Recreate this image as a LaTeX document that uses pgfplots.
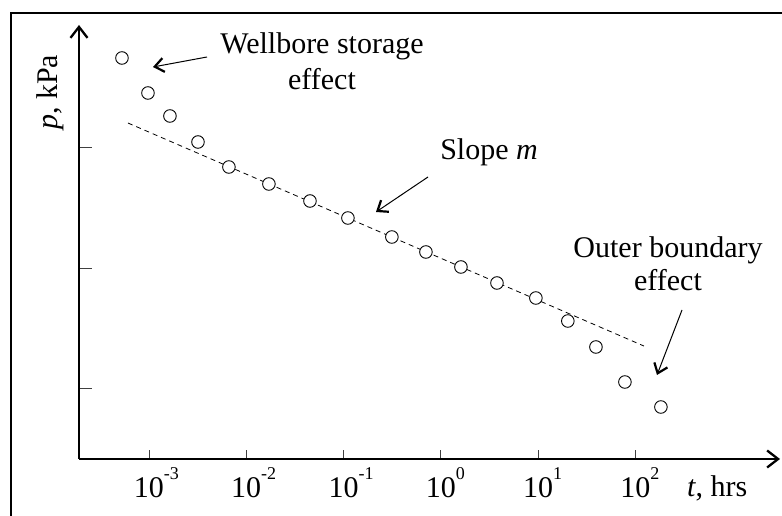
\documentclass[border=0pt]{standalone}
\usepackage{fontspec}
\setmainfont{Liberation Serif}
\usepackage{pgfplots}
\pgfplotsset{compat=1.18}
\usetikzlibrary{arrows.meta}

% tick label: "10" centred on the tick, exponent hanging to the right
\newcommand{\tl}[1]{10\rlap{\raisebox{18pt}{\fontsize{18}{18}\selectfont #1}}}

\begin{document}
\begin{tikzpicture}[font=\fontsize{30}{34}\selectfont]
\useasboundingbox (0pt,0pt) rectangle (782pt,516pt);

\begin{axis}[
  at={(79pt,57pt)}, anchor=south west,
  scale only axis,
  width=701pt, height=434pt,
  xmode=log,
  xmin=1.91e-4, xmax=3062,
  ymin=0, ymax=434,
  axis lines=left,
  axis line style={line width=1.1pt, -{Straight Barb[length=11pt,width=17pt,line width=2.3pt]}},
  tick align=inside,
  major tick length=9pt,
  tick style={black!75, line width=0.9pt},
  xtick={1e-3,1e-2,1e-1,1,10,100},
  xticklabels={\tl{-3},\tl{-2},\tl{-1},\tl{0},\tl{1},\tl{2}},
  xticklabel style={anchor=base, yshift=-39pt, inner sep=0pt},
  xminorticks=false,
  ytick={71,191,312},
  yticklabels={},
  y tick style={/pgfplots/major tick length=13pt},
  clip=false,
]
% straight-line fit (slope m)
\addplot[black, line width=0.8pt, dash pattern=on 5pt off 4pt]
  coordinates {(0.000608,336) (122.2,113)};
% measured pressures
\addplot[only marks, mark=*, mark size=6.3pt,
  mark options={fill=white, draw=black, line width=0.9pt}]
  coordinates {
  (0.000528,401) (0.000977,366) (0.001644,343) (0.003192,317)
  (0.006637,292) (0.0171,275) (0.0452,258) (0.1109,241)
  (0.314,222) (0.703,207) (1.61,192) (3.776,176)
  (9.48,161) (20.2,138) (39.3,112) (78.0,77) (182.8,52)
  };
\end{axis}

% frame (cut by the picture edge on the right and bottom)
\draw[line width=2pt] (11pt,-5pt) -- (11pt,503pt) -- (800pt,503pt);

% axis labels
\node[anchor=base west, inner sep=0pt] at (687pt,19pt) {\textit{t}, hrs};
\node[anchor=base west, inner sep=0pt, rotate=90] at (57pt,386pt) {\textit{p}, kPa};

% annotations
\node[anchor=base, inner sep=0pt] at (322pt,462pt) {Wellbore storage};
\node[anchor=base, inner sep=0pt] at (322pt,426pt) {effect};
\node[anchor=base, inner sep=0pt] at (489pt,356pt) {Slope \textit{m}};
\node[anchor=base, inner sep=0pt] at (668pt,258pt) {Outer boundary};
\node[anchor=base, inner sep=0pt] at (668pt,225pt) {effect};

\begin{scope}[line width=1pt, -{Straight Barb[length=9pt,width=14pt,line width=2.2pt]}]
\draw (207pt,459pt) -- (153pt,449pt);
\draw (428pt,339pt) -- (376pt,304pt);
\draw (682pt,206pt) -- (657pt,141pt);
\end{scope}
\end{tikzpicture}
\end{document}
